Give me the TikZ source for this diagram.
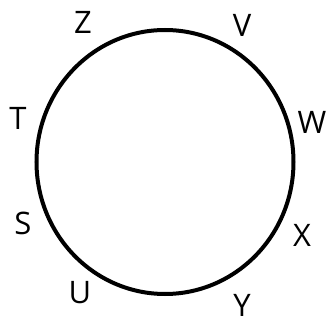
\documentclass[tikz,border=0pt]{standalone}
\usepackage{fontspec}
\setmainfont{Open Sans}
\begin{document}
\begin{tikzpicture}[x=1pt,y=1pt]
\tikzset{lbl/.style={inner sep=0pt,font=\fontsize{31}{36}\selectfont}}

% Canvas
\useasboundingbox (0,0) rectangle (330,322);

% The ring
\def\cx{165}
\def\cy{160}
\draw[line width=4] (\cx,\cy) ellipse [x radius=128.5, y radius=132];

% Letters round the ring
\node[lbl] (Z) at (83, 322-22) {Z};
\node[lbl] (V) at (242, 322-25) {V};
\node[lbl] (T) at (18, 322-118) {T};
\node[lbl] (W) at (312, 322-122) {W};
\node[lbl] (S) at (23, 322-223) {S};
\node[lbl] (X) at (302, 322-235) {X};
\node[lbl] (U) at (80, 322-293) {U};
\node[lbl] (Y) at (242, 322-305) {Y};

\end{tikzpicture}
\end{document}
